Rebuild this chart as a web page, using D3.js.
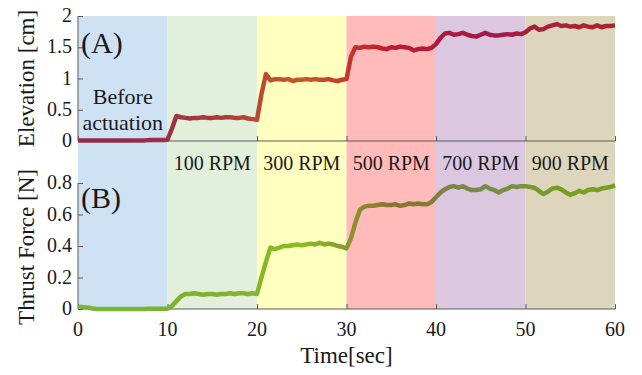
<!DOCTYPE html>
<html>
<head>
<meta charset="utf-8">
<script src="https://cdn.jsdelivr.net/npm/d3@7"></script>
<style>
body{margin:0;background:#fff;}
svg text{font-family:"Liberation Serif","DejaVu Serif","Times New Roman",serif;fill:#1a1a1a;}
</style>
</head>
<body>
<svg id="chart" font-family="Liberation Serif, DejaVu Serif, serif"></svg>
<script>
//phase bands and their labels
var bandStarts = [0,10,20,30,40,50]
var bandEnds = [10,20,30,40,50,60]
var bandLabels = ["Before actuation","100 RPM","300 RPM","500 RPM","700 RPM","900 RPM"]
var bandColors = ["#cfe2f3","#e2efda","#ffffc0","#ffbaba","#dcc7e1","#ddd6bd"]

//line colours per phase
var elevColors = ["#8e2c4c","#a83a3c","#c85828","#c0182e","#a01a4a","#a82530"]
var thrustColors = ["#78b43a","#80b02e","#8cbc24","#8a7430","#7a8a4c","#789e22"]

//tick values
var timeTicks = [0,10,20,30,40,50,60]
var elevTicks = [0,0.5,1,1.5,2]
var elevTickLabels = ["0","0.5","1","1.5","2"]
var thrustTicks = [0,0.2,0.4,0.6,0.8]
var thrustTickLabels = ["0","0.2","0.4","0.6","0.8"]

//sample times in sec
var times = [0,0.5,1,1.5,2,2.5,3,3.5,4,4.5,5,5.5,6,6.5,7,7.5,8,8.5,9,9.5,
 10,10.5,11,11.5,12,12.5,13,13.5,14,14.5,15,15.5,16,16.5,17,17.5,18,18.5,19,19.5,
 20,20.5,21,21.5,22,22.5,23,23.5,24,24.5,25,25.5,26,26.5,27,27.5,28,28.5,29,29.5,
 30,30.5,31,31.5,32,32.5,33,33.5,34,34.5,35,35.5,36,36.5,37,37.5,38,38.5,39,39.5,
 40,40.5,41,41.5,42,42.5,43,43.5,44,44.5,45,45.5,46,46.5,47,47.5,48,48.5,49,49.5,
 50,50.5,51,51.5,52,52.5,53,53.5,54,54.5,55,55.5,56,56.5,57,57.5,58,58.5,59,59.5,60]

//elevation in cm
var elevation = [0.01,0.01,0.01,0.01,0.01,0.01,0.01,0.01,0.01,0.01,0.01,0.01,0.01,0.01,0.01,0.01,0.015,0.015,0.015,0.015,
 0.02,0.2,0.4,0.38,0.37,0.36,0.37,0.37,0.38,0.37,0.37,0.38,0.37,0.38,0.38,0.37,0.37,0.38,0.36,0.35,
 0.34,0.75,1.07,0.97,0.99,0.99,0.98,0.99,0.96,0.98,0.98,0.99,0.98,0.99,0.98,0.98,0.99,0.97,0.96,0.98,
 0.99,1.35,1.5,1.49,1.51,1.5,1.51,1.5,1.48,1.47,1.5,1.49,1.51,1.5,1.49,1.45,1.47,1.48,1.47,1.49,
 1.55,1.65,1.72,1.73,1.7,1.71,1.73,1.7,1.68,1.67,1.7,1.73,1.7,1.69,1.69,1.7,1.71,1.7,1.72,1.71,
 1.74,1.8,1.83,1.78,1.79,1.83,1.85,1.87,1.84,1.85,1.83,1.84,1.82,1.85,1.83,1.82,1.85,1.82,1.84,1.84,1.85]

//thrust force in N
var thrust = [0.015,0.012,0.01,0.005,0,0,0,0,0,0,0,0,0,0,0,0,0.002,0.002,0.002,0.002,
 0.002,0.02,0.05,0.08,0.095,0.095,0.1,0.095,0.09,0.095,0.095,0.09,0.095,0.095,0.1,0.095,0.1,0.1,0.095,0.1,
 0.095,0.2,0.3,0.39,0.38,0.39,0.4,0.4,0.405,0.41,0.405,0.41,0.415,0.41,0.42,0.41,0.415,0.41,0.4,0.395,
 0.385,0.45,0.55,0.63,0.65,0.655,0.655,0.66,0.665,0.66,0.66,0.665,0.655,0.66,0.67,0.665,0.67,0.665,0.665,0.68,
 0.71,0.74,0.76,0.775,0.78,0.77,0.78,0.765,0.755,0.755,0.76,0.78,0.765,0.755,0.74,0.755,0.765,0.78,0.775,0.78,
 0.78,0.775,0.77,0.75,0.73,0.745,0.765,0.77,0.76,0.74,0.725,0.735,0.75,0.74,0.755,0.76,0.755,0.765,0.77,0.775,0.785]

var screen = {width:642, height:375}
var margins = {left:78, right:25}
var panelA = {top:16, bottom:141}
var panelB = {top:183, bottom:309}

var svg = d3.select("#chart")
    .attr("width",screen.width)
    .attr("height",screen.height)

var xScale = d3.scaleLinear()
    .domain([0,60])
    .range([margins.left,screen.width-margins.right-2])

var yA = d3.scaleLinear().domain([0,2]).range([panelA.bottom,panelA.top])
var yB = d3.scaleLinear().domain([0,0.8]).range([panelB.bottom,panelB.top])

//background bands
svg.append("g").selectAll("rect")
    .data(bandStarts)
    .enter()
    .append("rect")
    .attr("x",function(d){return xScale(d)})
    .attr("width",function(d,i){return xScale(bandEnds[i])-xScale(d)})
    .attr("y",panelA.top)
    .attr("height",panelB.bottom-panelA.top)
    .attr("fill",function(d,i){return bandColors[i]})

//gradients along the time axis for the two lines
var defs = svg.append("defs")
var makeGradient = function(id,colors)
{
    var grad = defs.append("linearGradient")
        .attr("id",id)
        .attr("gradientUnits","userSpaceOnUse")
        .attr("x1",xScale(0)).attr("x2",xScale(60))
        .attr("y1",0).attr("y2",0)
    colors.forEach(function(c,i)
    {
        var mid = (bandStarts[i]+bandEnds[i])/2
        grad.append("stop").attr("offset",(mid/60*100)+"%").attr("stop-color",c)
    })
}
makeGradient("gradA",elevColors)
makeGradient("gradB",thrustColors)

//axes
var axisColor = "#5a5a5a"
var drawAxes = function(yScale,panel,ticks,labels,showX)
{
    var g = svg.append("g")
    var yAxis = d3.axisRight(yScale)
        .tickValues(ticks)
        .tickSize(5)
        .tickFormat("")
    var ya = g.append("g")
        .attr("transform","translate("+margins.left+",0)")
        .call(yAxis)
    ya.select(".domain").remove()
    ya.selectAll("line").attr("stroke",axisColor)
    g.append("line")
        .attr("x1",margins.left).attr("x2",margins.left)
        .attr("y1",panel.top).attr("y2",panel.bottom)
        .attr("stroke",axisColor)
    g.selectAll(".ylab")
        .data(ticks)
        .enter()
        .append("text")
        .attr("x",margins.left-6)
        .attr("y",function(d){return yScale(d)+6})
        .attr("text-anchor","end")
        .style("font-size","20px")
        .text(function(d,i){return labels[i]})

    var xAxis = d3.axisTop(xScale)
        .tickValues(timeTicks)
        .tickSize(5)
        .tickFormat("")
    var xa = g.append("g")
        .attr("transform","translate(0,"+panel.bottom+")")
        .call(xAxis)
    xa.select(".domain").remove()
    xa.selectAll("line").attr("stroke",axisColor)
    g.append("line")
        .attr("x1",xScale(0)).attr("x2",xScale(60))
        .attr("y1",panel.bottom).attr("y2",panel.bottom)
        .attr("stroke",axisColor)
    if(showX)
    {
        g.selectAll(".xlab")
            .data(timeTicks)
            .enter()
            .append("text")
            .attr("x",function(d){return xScale(d)})
            .attr("y",panel.bottom+27)
            .attr("text-anchor","middle")
            .style("font-size","20px")
            .text(function(d){return d})
    }
}
drawAxes(yA,panelA,elevTicks,elevTickLabels,false)
drawAxes(yB,panelB,thrustTicks,thrustTickLabels,true)

//the lines
var points = function(values)
{
    return times.map(function(t,i){return [t,values[i]]})
}
var lineA = d3.line()
    .x(function(d){return xScale(d[0])})
    .y(function(d){return yA(d[1])})
var lineB = d3.line()
    .x(function(d){return xScale(d[0])})
    .y(function(d){return yB(d[1])})

svg.append("path")
    .attr("d",lineA(points(elevation)))
    .attr("fill","none")
    .attr("stroke","url(#gradA)")
    .attr("stroke-width",4.5)
    .attr("stroke-linejoin","round")
svg.append("path")
    .attr("d",lineB(points(thrust)))
    .attr("fill","none")
    .attr("stroke","url(#gradB)")
    .attr("stroke-width",4.5)
    .attr("stroke-linejoin","round")

//phase labels
svg.append("text")
    .attr("x",xScale(5)).attr("y",104)
    .attr("text-anchor","middle")
    .style("font-size","22px")
    .text("Before")
svg.append("text")
    .attr("x",xScale(5)).attr("y",130)
    .attr("text-anchor","middle")
    .style("font-size","22px")
    .text("actuation")
svg.selectAll(".rpm")
    .data(bandLabels.slice(1))
    .enter()
    .append("text")
    .attr("x",function(d,i){return xScale((bandStarts[i+1]+bandEnds[i+1])/2)})
    .attr("y",170)
    .attr("text-anchor","middle")
    .style("font-size","20px")
    .text(function(d){return d})

//panel letters
svg.append("text")
    .attr("x",81).attr("y",53)
    .style("font-size","30px")
    .text("(A)")
svg.append("text")
    .attr("x",81).attr("y",208)
    .style("font-size","30px")
    .text("(B)")

//axis titles
svg.append("text")
    .attr("transform","translate(34,"+((panelA.top+panelA.bottom)/2)+") rotate(-90)")
    .attr("text-anchor","middle")
    .style("font-size","23px")
    .text("Elevation [cm]")
svg.append("text")
    .attr("transform","translate(34,"+247+") rotate(-90)")
    .attr("text-anchor","middle")
    .style("font-size","23px")
    .text("Thrust Force [N]")
svg.append("text")
    .attr("x",xScale(30)).attr("y",363)
    .attr("text-anchor","middle")
    .style("font-size","23px")
    .text("Time[sec]")
</script>
</body>
</html>
